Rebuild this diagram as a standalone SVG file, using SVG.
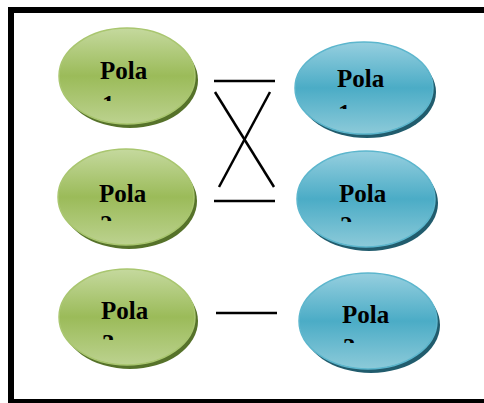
<svg xmlns="http://www.w3.org/2000/svg" width="484" height="403" viewBox="0 0 484 403">
<defs>
<linearGradient id="gG" x1="0" y1="0" x2="0" y2="1">
<stop offset="0" stop-color="#c5d99e"/>
<stop offset="0.5" stop-color="#9bbb59"/>
<stop offset="1" stop-color="#bcd28f"/>
</linearGradient>
<linearGradient id="gB" x1="0" y1="0" x2="0" y2="1">
<stop offset="0" stop-color="#96cfdf"/>
<stop offset="0.5" stop-color="#4bacc6"/>
<stop offset="1" stop-color="#8ccad9"/>
</linearGradient>
<clipPath id="c1"><rect x="0" y="0" width="484" height="101"/></clipPath>
<clipPath id="c2"><rect x="0" y="120" width="484" height="101"/></clipPath>
<clipPath id="c3"><rect x="0" y="260" width="484" height="80"/></clipPath>
<clipPath id="c4"><rect x="0" y="0" width="484" height="109"/></clipPath>
<clipPath id="c5"><rect x="0" y="120" width="484" height="102"/></clipPath>
<clipPath id="c6"><rect x="0" y="260" width="484" height="83"/></clipPath>
</defs>
<style>
.frame{fill:none;stroke:#000;stroke-width:6}
.gs{fill:#56722a}
.bs{fill:#215c6d}
.g{fill:url(#gG);stroke:#a9c66f;stroke-width:1.5}
.b{fill:url(#gB);stroke:#5cb6cd;stroke-width:1.5}
.t{font-family:"Liberation Serif","DejaVu Serif",serif;font-weight:bold;font-size:25px;fill:#000}
.ln{stroke:#000;stroke-width:2.5;fill:none}
</style>
<rect class="frame" x="11" y="10" width="490" height="392"/>
<g id="connectors">
<line class="ln" x1="214" y1="81" x2="275" y2="81"/>
<line class="ln" x1="214" y1="201" x2="275" y2="201"/>
<line class="ln" x1="215" y1="92" x2="274" y2="187"/>
<line class="ln" x1="270" y1="92" x2="219" y2="187"/>
<line class="ln" x1="216" y1="313" x2="277" y2="313"/>
</g>
<g id="left1">
<ellipse class="gs" cx="130" cy="80" rx="68" ry="48"/>
<ellipse class="g" cx="127" cy="76" rx="68" ry="48"/>
<text class="t" x="100" y="79">Pola</text>
<text class="t" x="102" y="113" clip-path="url(#c1)">1</text>
</g>
<g id="left2">
<ellipse class="gs" cx="129" cy="201" rx="68" ry="48"/>
<ellipse class="g" cx="126" cy="197" rx="68" ry="48"/>
<text class="t" x="99" y="202">Pola</text>
<text class="t" x="100" y="233" clip-path="url(#c2)">2</text>
</g>
<g id="left3">
<ellipse class="gs" cx="130" cy="321" rx="68" ry="48"/>
<ellipse class="g" cx="127" cy="317" rx="68" ry="48"/>
<text class="t" x="101" y="319">Pola</text>
<text class="t" x="102" y="352" clip-path="url(#c3)">3</text>
</g>
<g id="right1">
<ellipse class="bs" cx="367" cy="92" rx="69" ry="46"/>
<ellipse class="b" cx="364" cy="88" rx="69" ry="46"/>
<text class="t" x="337" y="87">Pola</text>
<text class="t" x="338" y="122" clip-path="url(#c4)">1</text>
</g>
<g id="right2">
<ellipse class="bs" cx="369" cy="203" rx="69" ry="48"/>
<ellipse class="b" cx="366" cy="199" rx="69" ry="48"/>
<text class="t" x="339" y="202">Pola</text>
<text class="t" x="340" y="234" clip-path="url(#c5)">2</text>
</g>
<g id="right3">
<ellipse class="bs" cx="371" cy="325" rx="69" ry="48"/>
<ellipse class="b" cx="368" cy="321" rx="69" ry="48"/>
<text class="t" x="342" y="323">Pola</text>
<text class="t" x="343" y="356" clip-path="url(#c6)">3</text>
</g>
</svg>
